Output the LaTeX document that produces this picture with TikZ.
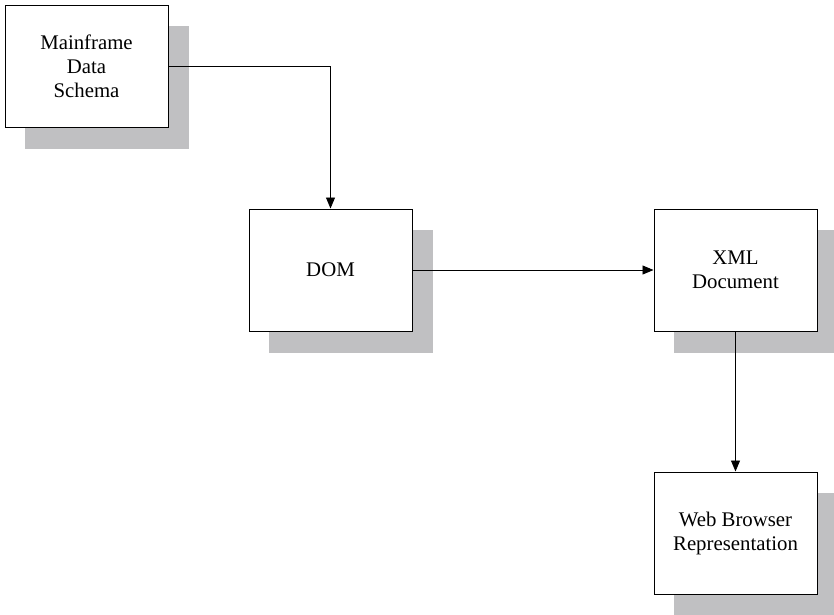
\documentclass[tikz,border=0pt]{standalone}
\usepackage{fontspec}
\setmainfont{Liberation Serif}
\usetikzlibrary{arrows.meta,backgrounds}
\definecolor{shadowc}{RGB}{192,192,194}
\tikzset{
  box/.style={draw=black, line width=1pt, fill=white, minimum width=163pt, minimum height=122pt,
    inner sep=0pt, align=center, font=\fontsize{20.8}{24}\selectfont},
  conn/.style={line width=0.9pt, -{Triangle[length=11pt,width=9pt]}},
  shadowbox/.style={fill=shadowc}
}
\begin{document}
\begin{tikzpicture}[x=1pt,y=-1pt]
\useasboundingbox (0,0) rectangle (834,614);
\clip (0,0) rectangle (834,614);
\node[box] (mds) at (86.5,66.5) {Mainframe\\Data\\Schema};
\node[box] (dom) at (330.5,270) {DOM};
\node[box] (xml) at (735.5,270) {XML\\Document};
\node[box] (web) at (735.5,533) {Web Browser\\Representation};
\begin{scope}[on background layer]
  \foreach \n in {mds,dom,xml,web}{
    \fill[shadowbox] ([shift={(20,21)}]\n.south west) rectangle ([shift={(20,21)}]\n.north east);
  }
\end{scope}
\draw[conn] (mds.east) -| (dom.north);
\draw[conn] (dom.east) -- (xml.west);
\draw[conn] (xml.south) -- (web.north);
\end{tikzpicture}
\end{document}
